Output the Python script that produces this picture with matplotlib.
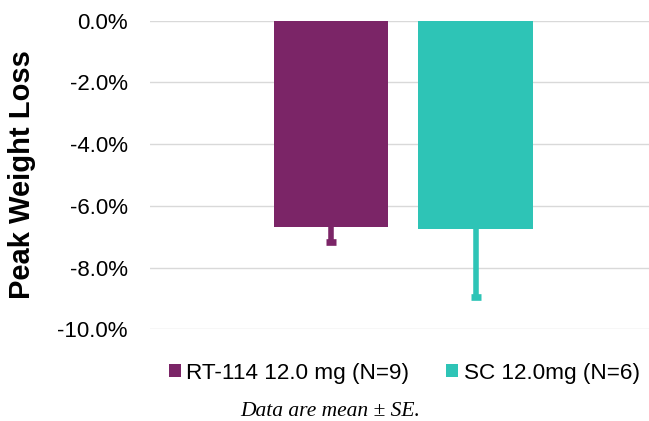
import matplotlib
matplotlib.use("Agg")
import matplotlib.pyplot as plt
from matplotlib.patches import Patch
from matplotlib.ticker import FuncFormatter

series = ["RT-114 12.0 mg (N=9)", "SC 12.0mg (N=6)"]
values = [-6.68, -6.76]
se = [0.48, 2.19]
colors = ["#7B2567", "#2EC4B6"]
yticks = [0, -2, -4, -6, -8, -10]

fig = plt.figure(figsize=(6.49, 4.21), dpi=100)
ax = fig.add_axes([150/649, (421-329.3)/421, 499/649, (329.3-20.7)/421])

xpos = [0, 1]
for x, v, e, c in zip(xpos, values, se, colors):
    ax.bar(x, v, width=0.79, color=c, zorder=2)
    ax.plot([x, x], [v, v - e], color=c, linewidth=4.0, solid_capstyle="butt", zorder=3)
    ax.plot([x], [v - e], marker="_", markersize=7.4, markeredgewidth=4.8, color=c, zorder=3)

ax.set_xlim(-1.2526, 2.2)
ax.set_ylim(-10, 0)
ax.set_yticks(yticks)
ax.yaxis.set_major_formatter(FuncFormatter(lambda v, p: f"{v:.1f}%"))
ax.grid(axis="y", color="#D9D9D9", linewidth=1.0, zorder=0)
ax.set_axisbelow(True)
for s in ax.spines.values():
    s.set_visible(False)
ax.tick_params(axis="y", length=0, pad=16, labelsize=16)
ax.tick_params(axis="x", length=0, labelbottom=False)
for lbl in ax.get_yticklabels():
    lbl.set_fontfamily("Liberation Sans")

fig.text(22/649, 1 - 175/421, "Peak Weight Loss", rotation=90, ha="center", va="center",
         fontsize=21, fontweight="bold", family="Liberation Sans")

handles = [Patch(facecolor=c, edgecolor="none") for c in colors]
leg = fig.legend(handles, series, loc="center", bbox_to_anchor=(404/649, 1 - 373/421),
                 ncol=2, frameon=False, prop={"family": "Liberation Sans", "size": 16.2},
                 handlelength=0.55, handleheight=0.55, handletextpad=0.25, columnspacing=1.6)

fig.text(330/649, 1 - 411/421, "Data are mean \u00b1 SE.", ha="center", va="center",
         fontsize=15.5, style="italic", family="Liberation Serif")

fig.savefig("out.png", dpi=100)
